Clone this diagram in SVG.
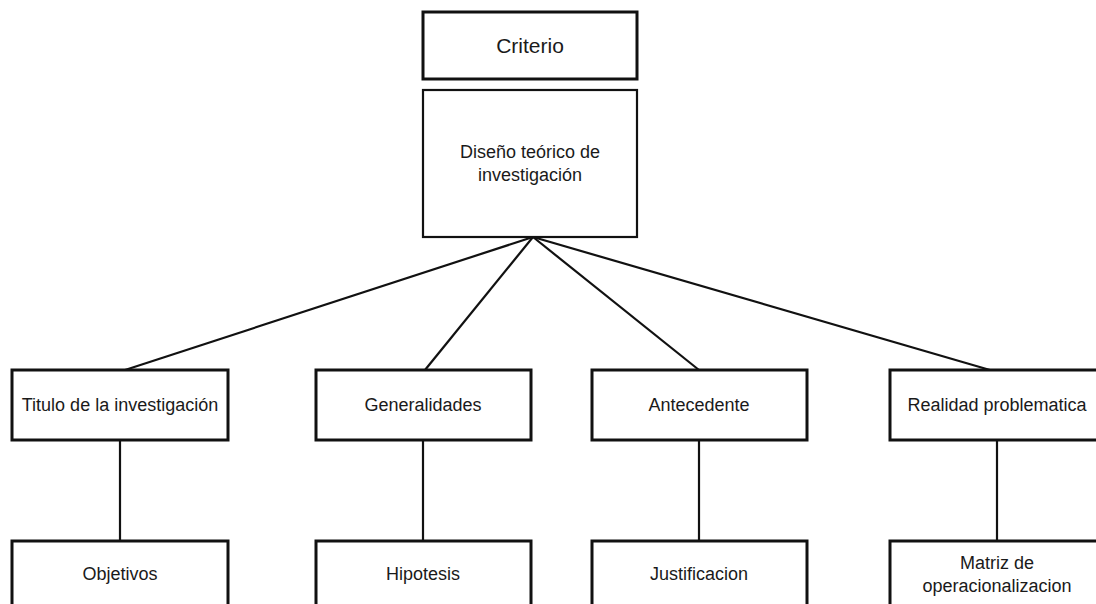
<svg xmlns="http://www.w3.org/2000/svg" width="1096" height="604" viewBox="0 0 1096 604">
<style>
.box{fill:#fff;stroke:#111;stroke-width:3}
.thin{fill:#fff;stroke:#111;stroke-width:2.2}
.t{font-family:"Liberation Sans",Arial,sans-serif;font-size:18px;fill:#1a1a1a;text-anchor:middle;dominant-baseline:central}
.c{stroke:#111;stroke-width:2.2;fill:none}
</style>
<rect width="1096" height="604" fill="#fff"/>
<g id="connectors">
<line class="c" x1="533" y1="237" x2="125" y2="370"/>
<line class="c" x1="533" y1="237" x2="425" y2="370"/>
<line class="c" x1="533" y1="237" x2="699" y2="370"/>
<line class="c" x1="533" y1="237" x2="990" y2="370"/>
<line class="c" x1="120" y1="440" x2="120" y2="541"/>
<line class="c" x1="423" y1="440" x2="423" y2="541"/>
<line class="c" x1="699" y1="440" x2="699" y2="541"/>
<line class="c" x1="997" y1="440" x2="997" y2="541"/>
</g>
<g id="criterio"><rect class="box" x="423" y="12" width="214" height="67"/><text class="t" x="530" y="45" style="font-size:21px">Criterio</text></g>
<g id="diseno"><rect class="thin" x="423" y="90" width="214" height="147"/><text class="t" x="530" y="152">Diseño teórico de</text><text class="t" x="530" y="175">investigación</text></g>
<g id="titulo"><rect class="box" x="12" y="370" width="216" height="70"/><text class="t" x="120" y="405">Titulo de la investigación</text></g>
<g id="generalidades"><rect class="box" x="316" y="370" width="215" height="70"/><text class="t" x="423" y="405">Generalidades</text></g>
<g id="antecedente"><rect class="box" x="592" y="370" width="215" height="70"/><text class="t" x="699" y="405">Antecedente</text></g>
<g id="realidad"><rect class="box" x="890" y="370" width="216" height="70"/><text class="t" x="997" y="405">Realidad problematica</text></g>
<g id="objetivos"><rect class="box" x="12" y="541" width="216" height="80"/><text class="t" x="120" y="574">Objetivos</text></g>
<g id="hipotesis"><rect class="box" x="316" y="541" width="215" height="80"/><text class="t" x="423" y="574">Hipotesis</text></g>
<g id="justificacion"><rect class="box" x="592" y="541" width="215" height="80"/><text class="t" x="699" y="574">Justificacion</text></g>
<g id="matriz"><rect class="box" x="890" y="541" width="216" height="80"/><text class="t" x="997" y="563">Matriz de</text><text class="t" x="997" y="586">operacionalizacion</text></g>
</svg>
